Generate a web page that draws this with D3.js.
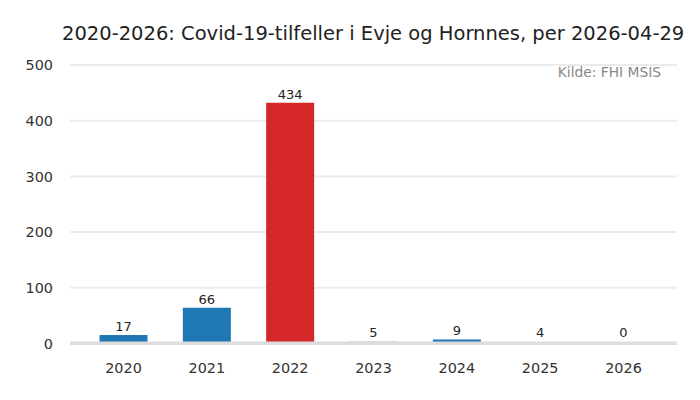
<!DOCTYPE html>
<html><head><meta charset="utf-8">
<script src="https://cdn.jsdelivr.net/npm/d3@7"></script>
<style>body{margin:0;background:#fff}svg{display:block}text{font-family:"DejaVu Sans",sans-serif}</style>
</head><body><svg id="c" width="700" height="400"></svg>
<script>
const categories = ["2020","2021","2022","2023","2024","2025","2026"];
const values = [17,66,434,5,9,4,0];
const highlight = ["2022"];
const yTicks = [0,100,200,300,400,500];
const title = "2020-2026: Covid-19-tilfeller i Evje og Hornnes, per 2026-04-29";
const source = "Kilde: FHI MSIS";

const svg = d3.select("#c");
const x = d3.scaleBand().domain(categories).range([70,677]).paddingInner(0.424).paddingOuter(0.354);
const y = d3.scaleLinear().domain([0,500]).range([344.5,66]);

// gridlines
svg.append("g").selectAll("line").data(yTicks.filter(d=>d>0)).join("line")
  .attr("x1",70).attr("x2",677).attr("y1",d=>y(d)-1).attr("y2",d=>y(d)-1)
  .attr("stroke","#ebebeb").attr("stroke-width",2);

// y labels
const yAxis = d3.axisLeft(y).tickValues(yTicks).tickSize(0).tickPadding(0);
const gy = svg.append("g").attr("transform","translate(53,-1)").call(yAxis);
gy.select(".domain").remove();
gy.selectAll("text").attr("font-size",14.4).attr("fill","#333").attr("font-family","DejaVu Sans, sans-serif");

// bars
svg.append("g").selectAll("rect").data(categories).join("rect")
  .attr("x",d=>x(d)).attr("width",x.bandwidth())
  .attr("y",(d,i)=>y(values[i])).attr("height",(d,i)=>y(0)-y(values[i]))
  .attr("fill",d=>highlight.includes(d)?"#d62728":"#1f77b4");

// baseline
svg.append("line").attr("x1",70).attr("x2",677).attr("y1",y(0)-1.2).attr("y2",y(0)-1.2)
  .attr("stroke","#dddddd").attr("stroke-width",3.4);

// value labels
svg.append("g").selectAll("text").data(categories).join("text")
  .attr("x",d=>x(d)+x.bandwidth()/2).attr("y",(d,i)=>Math.min(y(values[i]),341)-4)
  .attr("text-anchor","middle").attr("font-size",13).attr("fill","#222")
  .text((d,i)=>values[i]);

// x labels
const xAxis = d3.axisBottom(x).tickSize(0).tickPadding(0);
const gx = svg.append("g").attr("transform","translate(0,362.5)").call(xAxis);
gx.select(".domain").remove();
gx.selectAll("text").attr("font-size",14.4).attr("fill","#333").attr("font-family","DejaVu Sans, sans-serif");

// title
svg.append("text").attr("x",62).attr("y",40).attr("font-size",19.5).attr("fill","#222").text(title);
svg.append("text").attr("x",661).attr("y",77).attr("text-anchor","end").attr("font-size",13.8).attr("fill","#888").text(source);
</script></body></html>
